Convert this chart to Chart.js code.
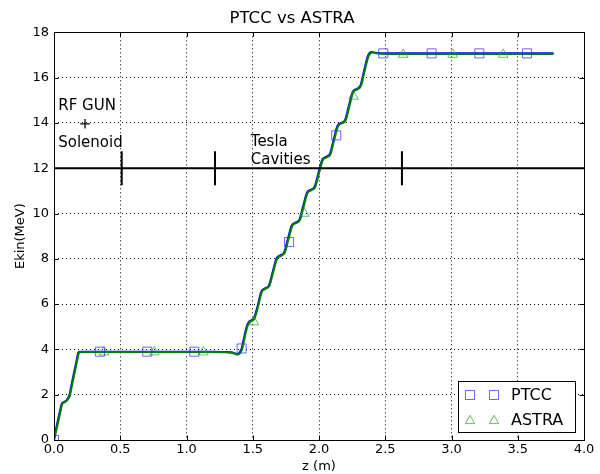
<!DOCTYPE html>
<html><head><meta charset="utf-8">
<script src="https://cdn.jsdelivr.net/npm/chart.js@4.4.0/dist/chart.umd.min.js"></script>
<style>html,body{margin:0;padding:0;background:#fff;}#wrap{width:600px;height:474px;}</style>
</head><body><div id="wrap"><canvas id="c" width="600" height="474"></canvas></div>
<script>
// ---- data ----
const ptccZ = [0, 0.02, 0.04, 0.058, 0.07, 0.085, 0.1, 0.116, 0.13, 0.15, 0.17, 0.184, 0.196, 0.3, 0.6, 0.9, 1.2, 1.3, 1.34, 1.365, 1.386, 1.40, 1.416, 1.43, 1.445, 1.46, 1.478, 1.507, 1.535, 1.564, 1.593, 1.622, 1.650, 1.679, 1.708, 1.737, 1.765, 1.794, 1.823, 1.852, 1.880, 1.909, 1.938, 1.967, 1.995, 2.024, 2.053, 2.082, 2.110, 2.139, 2.168, 2.197, 2.225, 2.254, 2.283, 2.312, 2.340, 2.369, 2.398, 2.425, 2.46, 2.6, 3.0, 3.4, 3.77];
const ptccE = [0, 0.62, 1.15, 1.6, 1.66, 1.71, 1.8, 1.98, 2.38, 2.95, 3.5, 3.86, 3.9, 3.9, 3.9, 3.9, 3.9, 3.89, 3.87, 3.82, 3.79, 3.86, 4.04, 4.4, 4.8, 5.1, 5.25, 5.36, 5.88, 6.55, 6.70, 6.83, 7.42, 8.02, 8.15, 8.28, 8.87, 9.47, 9.60, 9.73, 10.32, 10.92, 11.05, 11.18, 11.77, 12.37, 12.50, 12.63, 13.25, 13.87, 14.00, 14.13, 14.75, 15.37, 15.50, 15.64, 16.30, 16.96, 17.13, 17.10, 17.08, 17.07, 17.07, 17.07, 17.07];
const astraZ = [0, 0.024, 0.044, 0.062, 0.074, 0.089, 0.104, 0.12, 0.134, 0.154, 0.174, 0.188, 0.2, 0.3, 0.6, 0.9, 1.2, 1.3, 1.344, 1.369, 1.39, 1.404, 1.42, 1.434, 1.449, 1.464, 1.482, 1.511, 1.539, 1.568, 1.597, 1.626, 1.654, 1.683, 1.712, 1.741, 1.769, 1.798, 1.827, 1.856, 1.884, 1.913, 1.942, 1.971, 1.999, 2.028, 2.057, 2.086, 2.114, 2.143, 2.172, 2.201, 2.229, 2.258, 2.287, 2.316, 2.344, 2.373, 2.402, 2.429, 2.464, 2.6, 3.0, 3.4, 3.77];
const astraE = [0, 0.6, 1.12, 1.58, 1.65, 1.7, 1.79, 1.96, 2.36, 2.93, 3.48, 3.84, 3.88, 3.88, 3.88, 3.88, 3.88, 3.87, 3.85, 3.81, 3.78, 3.84, 4.02, 4.38, 4.78, 5.08, 5.23, 5.34, 5.86, 6.53, 6.68, 6.81, 7.40, 8.00, 8.13, 8.26, 8.85, 9.45, 9.58, 9.71, 10.30, 10.90, 11.03, 11.16, 11.75, 12.35, 12.48, 12.61, 13.23, 13.85, 13.98, 14.11, 14.73, 15.35, 15.48, 15.62, 16.28, 16.93, 17.11, 17.08, 17.05, 17.04, 17.04, 17.04, 17.04];
const ptccMarkZ = [0, 0.347, 0.704, 1.059, 1.416, 1.774, 2.13, 2.485, 2.85, 3.21, 3.57];
const ptccMarkE = [0, 3.9, 3.9, 3.9, 4.04, 8.74, 13.45, 17.07, 17.07, 17.07, 17.07];
const astraMarkZ = [0.377, 0.757, 1.127, 1.509, 1.89, 2.26, 2.636, 3.009, 3.39];
const astraMarkE = [3.88, 3.88, 3.88, 5.21, 10.0, 15.17, 17.02, 17.02, 17.02];
const beamlineZ = [0, 4];
const beamlineE = [12, 12];
const elementZ = [0.511, 1.215, 2.626];
const elementE = [11.25, 12.75];
const gunMarkZ = [0.234];
const gunMarkE = [13.96];
const noteTexts = ['RF GUN', 'Solenoid', 'Tesla', 'Cavities'];
const noteZ = [0.032, 0.032, 1.485, 1.485];
const noteE = [14.58, 12.93, 13.0, 12.17];
const xTickStep = 0.5, yTickStep = 2;

const pts = (xs, ys) => xs.map((x, i) => ({x: x, y: ys[i]}));
const FONT = "'DejaVu Sans', 'Liberation Sans', sans-serif";

const datasets = [
  {label: 'PTCC line', data: pts(ptccZ, ptccE), showLine: true, borderColor: '#0000ff', borderWidth: 2, pointRadius: 0, cubicInterpolationMode: 'monotone', order: 4},
  {label: 'ASTRA line', data: pts(astraZ, astraE), showLine: true, borderColor: '#008000', borderWidth: 2, pointRadius: 0, cubicInterpolationMode: 'monotone', order: 3},
  {label: 'PTCC', data: pts(ptccMarkZ, ptccMarkE), showLine: false, pointStyle: 'rect', pointRadius: 6.4, pointHoverRadius: 6.4, borderColor: 'rgba(40,40,255,0.7)', backgroundColor: 'rgba(0,0,0,0)', pointBorderWidth: 1, order: 2, legendMarker: true},
  {label: 'ASTRA', data: pts(astraMarkZ, astraMarkE), showLine: false, pointStyle: 'triangle', pointRadius: 5.6, pointHoverRadius: 5.6, borderColor: 'rgba(30,150,30,0.65)', backgroundColor: 'rgba(0,0,0,0)', pointBorderWidth: 1, order: 2, legendMarker: true},
  {label: 'beamline', data: pts(beamlineZ, beamlineE), showLine: true, borderColor: '#000', borderWidth: 2, pointRadius: 0, order: 1}
];
elementZ.forEach(z => datasets.push({label: 'element', data: pts([z, z], elementE), showLine: true, borderColor: '#000', borderWidth: 2, pointRadius: 0, order: 1}));
datasets.push({label: 'gun', data: pts(gunMarkZ, gunMarkE), showLine: false, pointStyle: 'cross', pointRadius: 4.8, borderColor: '#000', pointBorderWidth: 1.3, order: 1});

const overlay = {
  id: 'overlay',
  afterDatasetsDraw(chart) {
    const ctx = chart.ctx, a = chart.chartArea, xs = chart.scales.x, ys = chart.scales.y;
    ctx.save();
    ctx.strokeStyle = '#000'; ctx.lineWidth = 1; ctx.setLineDash([]);
    const L = 4.5;
    ctx.beginPath();
    xs.ticks.forEach(t => { const px = Math.round(xs.getPixelForValue(t.value)) + 0.5;
      ctx.moveTo(px, a.bottom); ctx.lineTo(px, a.bottom - L); ctx.moveTo(px, a.top); ctx.lineTo(px, a.top + L); });
    ys.ticks.forEach(t => { const py = Math.round(ys.getPixelForValue(t.value)) + 0.5;
      ctx.moveTo(a.left, py); ctx.lineTo(a.left + L, py); ctx.moveTo(a.right, py); ctx.lineTo(a.right - L, py); });
    ctx.stroke();
    ctx.strokeRect(Math.round(a.left) + 0.5, Math.round(a.top) + 0.5, Math.round(a.right - a.left), Math.round(a.bottom - a.top));
    // annotations
    ctx.fillStyle = '#000'; ctx.font = '15px ' + FONT; ctx.textBaseline = 'alphabetic'; ctx.textAlign = 'left';
    noteTexts.forEach((s, i) => ctx.fillText(s, xs.getPixelForValue(noteZ[i]), ys.getPixelForValue(noteE[i])));
    // legend
    const items = chart.data.datasets.filter(d => d.legendMarker);
    const bx = a.right - 126, by = a.bottom - 59, bw = 117, bh = 51;
    ctx.fillStyle = '#fff'; ctx.fillRect(bx, by, bw, bh);
    ctx.strokeStyle = '#000'; ctx.lineWidth = 1;
    ctx.strokeRect(Math.round(bx) + 0.5, Math.round(by) + 0.5, bw, bh);
    items.forEach((d, i) => {
      const cy = by + 14 + i * 25;
      [bx + 12, bx + 36].forEach(cx => {
        ctx.strokeStyle = d.borderColor; ctx.lineWidth = 1;
        ctx.beginPath();
        if (d.pointStyle === 'rect') { ctx.rect(cx - 4.5, cy - 4.5, 9, 9); }
        else { ctx.moveTo(cx, cy - 4.8); ctx.lineTo(cx - 4.6, cy + 3.6); ctx.lineTo(cx + 4.6, cy + 3.6); ctx.closePath(); }
        ctx.stroke();
      });
      ctx.fillStyle = '#000'; ctx.font = '16px ' + FONT; ctx.textBaseline = 'middle';
      ctx.fillText(d.label, bx + 53, cy + 1);
    });
    ctx.restore();
  }
};

new Chart(document.getElementById('c'), {
  type: 'scatter',
  data: {datasets: datasets},
  options: {
    responsive: false, animation: false, devicePixelRatio: 1,
    layout: {padding: {left: 0, right: 16, top: 0, bottom: 0}},
    plugins: {
      legend: {display: false}, tooltip: {enabled: false},
      title: {display: true, text: 'PTCC vs ASTRA', color: '#000', font: {family: FONT, size: 16.5, weight: 'normal'}, padding: {top: 9, bottom: 3.5}}
    },
    scales: {
      x: {type: 'linear', min: 0, max: 4,
        afterFit: s => { s.height = 34; },
        ticks: {stepSize: xTickStep, color: '#000', font: {family: FONT, size: 13}, padding: 2, maxRotation: 0, callback: v => v.toFixed(1)},
        grid: {color: '#000', lineWidth: 1, drawTicks: false},
        border: {display: false, dash: [1, 3]},
        title: {display: true, text: 'z (m)', color: '#000', font: {family: FONT, size: 13}, padding: {top: 0, bottom: 0}}
      },
      y: {type: 'linear', min: 0, max: 18,
        afterFit: s => { s.width = 54; },
        ticks: {stepSize: yTickStep, color: '#000', font: {family: FONT, size: 13}, padding: 5},
        grid: {color: '#000', lineWidth: 1, drawTicks: false},
        border: {display: false, dash: [1, 3]},
        title: {display: true, text: 'Ekin(MeV)', color: '#000', font: {family: FONT, size: 13}, padding: {top: 13, bottom: 0}}
      }
    }
  },
  plugins: [overlay]
});
</script></body></html>
